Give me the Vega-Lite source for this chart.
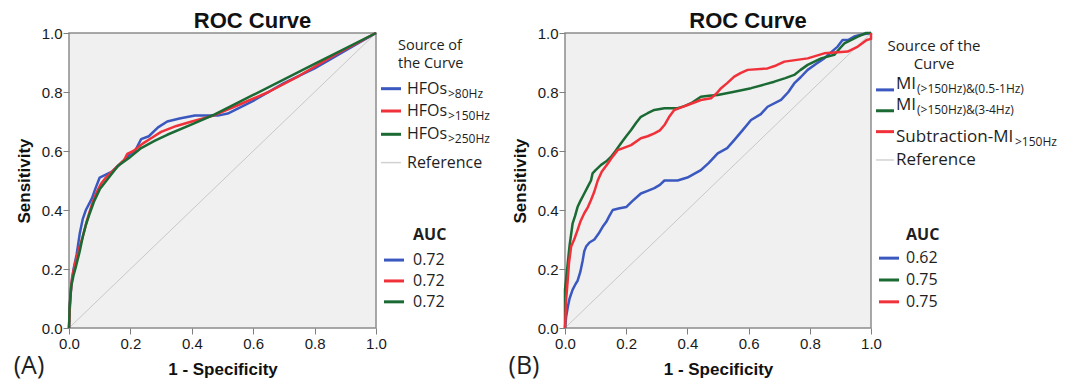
{
  "$schema": "https://vega.github.io/schema/vega-lite/v6.json",
  "padding": {"left": 12, "top": 9, "right": 0, "bottom": 0},
  "background": "white",
  "bounds": "flush",
  "spacing": 3,
  "config": {
    "view": {"stroke": null},
    "axis": {"domain": false, "grid": false, "ticks": true, "tickSize": 6, "tickColor": "#7f7f7f", "tickWidth": 1, "labelFont": "Liberation Sans", "labelFontSize": 15, "labelColor": "#1a1a1a", "labelPadding": 2, "labelFlush": false, "labelOverlap": false, "titleFont": "Liberation Sans", "titleFontSize": 17, "titleFontWeight": "bold", "titleColor": "#111111"},
    "axisX": {"titlePadding": 10},
    "axisY": {"titlePadding": 8, "labelPadding": 1},
    "title": {"font": "Liberation Sans", "fontSize": 22, "fontWeight": "bold", "color": "#111111", "baseline": "alphabetic", "offset": -7}
  },
  "resolve": {"scale": {"color": "independent", "x": "independent", "y": "independent"}},
  "datasets": {
    "rocA": [
      {"series": "HFOs>80Hz", "fpr": 0, "tpr": 0},
      {"series": "HFOs>80Hz", "fpr": 0.003, "tpr": 0.08},
      {"series": "HFOs>80Hz", "fpr": 0.008, "tpr": 0.15},
      {"series": "HFOs>80Hz", "fpr": 0.015, "tpr": 0.2},
      {"series": "HFOs>80Hz", "fpr": 0.025, "tpr": 0.25},
      {"series": "HFOs>80Hz", "fpr": 0.035, "tpr": 0.32},
      {"series": "HFOs>80Hz", "fpr": 0.045, "tpr": 0.37},
      {"series": "HFOs>80Hz", "fpr": 0.055, "tpr": 0.4},
      {"series": "HFOs>80Hz", "fpr": 0.065, "tpr": 0.42},
      {"series": "HFOs>80Hz", "fpr": 0.075, "tpr": 0.44},
      {"series": "HFOs>80Hz", "fpr": 0.085, "tpr": 0.47},
      {"series": "HFOs>80Hz", "fpr": 0.1, "tpr": 0.51},
      {"series": "HFOs>80Hz", "fpr": 0.12, "tpr": 0.52},
      {"series": "HFOs>80Hz", "fpr": 0.14, "tpr": 0.53},
      {"series": "HFOs>80Hz", "fpr": 0.16, "tpr": 0.55},
      {"series": "HFOs>80Hz", "fpr": 0.18, "tpr": 0.57},
      {"series": "HFOs>80Hz", "fpr": 0.2, "tpr": 0.59},
      {"series": "HFOs>80Hz", "fpr": 0.215, "tpr": 0.6},
      {"series": "HFOs>80Hz", "fpr": 0.235, "tpr": 0.64},
      {"series": "HFOs>80Hz", "fpr": 0.26, "tpr": 0.65},
      {"series": "HFOs>80Hz", "fpr": 0.29, "tpr": 0.68},
      {"series": "HFOs>80Hz", "fpr": 0.32, "tpr": 0.7},
      {"series": "HFOs>80Hz", "fpr": 0.36, "tpr": 0.71},
      {"series": "HFOs>80Hz", "fpr": 0.41, "tpr": 0.72},
      {"series": "HFOs>80Hz", "fpr": 0.485, "tpr": 0.72},
      {"series": "HFOs>80Hz", "fpr": 0.517, "tpr": 0.727},
      {"series": "HFOs>80Hz", "fpr": 0.6, "tpr": 0.77},
      {"series": "HFOs>80Hz", "fpr": 0.7, "tpr": 0.83},
      {"series": "HFOs>80Hz", "fpr": 0.8, "tpr": 0.88},
      {"series": "HFOs>80Hz", "fpr": 0.9, "tpr": 0.94},
      {"series": "HFOs>80Hz", "fpr": 1, "tpr": 1},
      {"series": "HFOs>150Hz", "fpr": 0, "tpr": 0},
      {"series": "HFOs>150Hz", "fpr": 0.004, "tpr": 0.1},
      {"series": "HFOs>150Hz", "fpr": 0.01, "tpr": 0.17},
      {"series": "HFOs>150Hz", "fpr": 0.02, "tpr": 0.22},
      {"series": "HFOs>150Hz", "fpr": 0.03, "tpr": 0.26},
      {"series": "HFOs>150Hz", "fpr": 0.045, "tpr": 0.31},
      {"series": "HFOs>150Hz", "fpr": 0.06, "tpr": 0.37},
      {"series": "HFOs>150Hz", "fpr": 0.075, "tpr": 0.42},
      {"series": "HFOs>150Hz", "fpr": 0.09, "tpr": 0.46},
      {"series": "HFOs>150Hz", "fpr": 0.105, "tpr": 0.49},
      {"series": "HFOs>150Hz", "fpr": 0.12, "tpr": 0.51},
      {"series": "HFOs>150Hz", "fpr": 0.14, "tpr": 0.53},
      {"series": "HFOs>150Hz", "fpr": 0.16, "tpr": 0.55},
      {"series": "HFOs>150Hz", "fpr": 0.18, "tpr": 0.57},
      {"series": "HFOs>150Hz", "fpr": 0.19, "tpr": 0.59},
      {"series": "HFOs>150Hz", "fpr": 0.21, "tpr": 0.6},
      {"series": "HFOs>150Hz", "fpr": 0.24, "tpr": 0.625},
      {"series": "HFOs>150Hz", "fpr": 0.27, "tpr": 0.645},
      {"series": "HFOs>150Hz", "fpr": 0.3, "tpr": 0.665},
      {"series": "HFOs>150Hz", "fpr": 0.35, "tpr": 0.685},
      {"series": "HFOs>150Hz", "fpr": 0.4, "tpr": 0.7},
      {"series": "HFOs>150Hz", "fpr": 0.47, "tpr": 0.72},
      {"series": "HFOs>150Hz", "fpr": 0.55, "tpr": 0.755},
      {"series": "HFOs>150Hz", "fpr": 0.65, "tpr": 0.8},
      {"series": "HFOs>150Hz", "fpr": 0.75, "tpr": 0.855},
      {"series": "HFOs>150Hz", "fpr": 0.866, "tpr": 0.926},
      {"series": "HFOs>150Hz", "fpr": 1, "tpr": 1},
      {"series": "HFOs>250Hz", "fpr": 0, "tpr": 0},
      {"series": "HFOs>250Hz", "fpr": 0.002, "tpr": 0.07},
      {"series": "HFOs>250Hz", "fpr": 0.007, "tpr": 0.14},
      {"series": "HFOs>250Hz", "fpr": 0.015, "tpr": 0.18},
      {"series": "HFOs>250Hz", "fpr": 0.023, "tpr": 0.21},
      {"series": "HFOs>250Hz", "fpr": 0.035, "tpr": 0.26},
      {"series": "HFOs>250Hz", "fpr": 0.045, "tpr": 0.31},
      {"series": "HFOs>250Hz", "fpr": 0.055, "tpr": 0.35},
      {"series": "HFOs>250Hz", "fpr": 0.068, "tpr": 0.39},
      {"series": "HFOs>250Hz", "fpr": 0.082, "tpr": 0.43},
      {"series": "HFOs>250Hz", "fpr": 0.1, "tpr": 0.47},
      {"series": "HFOs>250Hz", "fpr": 0.126, "tpr": 0.505},
      {"series": "HFOs>250Hz", "fpr": 0.16, "tpr": 0.55},
      {"series": "HFOs>250Hz", "fpr": 0.2, "tpr": 0.58},
      {"series": "HFOs>250Hz", "fpr": 0.235, "tpr": 0.61},
      {"series": "HFOs>250Hz", "fpr": 0.28, "tpr": 0.635},
      {"series": "HFOs>250Hz", "fpr": 0.32, "tpr": 0.655},
      {"series": "HFOs>250Hz", "fpr": 0.4, "tpr": 0.69},
      {"series": "HFOs>250Hz", "fpr": 0.47, "tpr": 0.722},
      {"series": "HFOs>250Hz", "fpr": 0.6, "tpr": 0.79},
      {"series": "HFOs>250Hz", "fpr": 0.8, "tpr": 0.895},
      {"series": "HFOs>250Hz", "fpr": 1, "tpr": 1}
    ],
    "rocB": [
      {"series": "MI(>150Hz)&(0.5-1Hz)", "fpr": 0, "tpr": 0},
      {"series": "MI(>150Hz)&(0.5-1Hz)", "fpr": 0.004, "tpr": 0.04},
      {"series": "MI(>150Hz)&(0.5-1Hz)", "fpr": 0.009, "tpr": 0.07},
      {"series": "MI(>150Hz)&(0.5-1Hz)", "fpr": 0.015, "tpr": 0.1},
      {"series": "MI(>150Hz)&(0.5-1Hz)", "fpr": 0.025, "tpr": 0.13},
      {"series": "MI(>150Hz)&(0.5-1Hz)", "fpr": 0.035, "tpr": 0.15},
      {"series": "MI(>150Hz)&(0.5-1Hz)", "fpr": 0.041, "tpr": 0.16},
      {"series": "MI(>150Hz)&(0.5-1Hz)", "fpr": 0.05, "tpr": 0.19},
      {"series": "MI(>150Hz)&(0.5-1Hz)", "fpr": 0.058, "tpr": 0.23},
      {"series": "MI(>150Hz)&(0.5-1Hz)", "fpr": 0.063, "tpr": 0.26},
      {"series": "MI(>150Hz)&(0.5-1Hz)", "fpr": 0.069, "tpr": 0.276},
      {"series": "MI(>150Hz)&(0.5-1Hz)", "fpr": 0.08, "tpr": 0.29},
      {"series": "MI(>150Hz)&(0.5-1Hz)", "fpr": 0.096, "tpr": 0.3},
      {"series": "MI(>150Hz)&(0.5-1Hz)", "fpr": 0.11, "tpr": 0.32},
      {"series": "MI(>150Hz)&(0.5-1Hz)", "fpr": 0.123, "tpr": 0.343},
      {"series": "MI(>150Hz)&(0.5-1Hz)", "fpr": 0.135, "tpr": 0.36},
      {"series": "MI(>150Hz)&(0.5-1Hz)", "fpr": 0.145, "tpr": 0.38},
      {"series": "MI(>150Hz)&(0.5-1Hz)", "fpr": 0.156, "tpr": 0.4},
      {"series": "MI(>150Hz)&(0.5-1Hz)", "fpr": 0.175, "tpr": 0.405},
      {"series": "MI(>150Hz)&(0.5-1Hz)", "fpr": 0.2, "tpr": 0.41},
      {"series": "MI(>150Hz)&(0.5-1Hz)", "fpr": 0.22, "tpr": 0.43},
      {"series": "MI(>150Hz)&(0.5-1Hz)", "fpr": 0.248, "tpr": 0.456},
      {"series": "MI(>150Hz)&(0.5-1Hz)", "fpr": 0.27, "tpr": 0.465},
      {"series": "MI(>150Hz)&(0.5-1Hz)", "fpr": 0.292, "tpr": 0.474},
      {"series": "MI(>150Hz)&(0.5-1Hz)", "fpr": 0.31, "tpr": 0.485},
      {"series": "MI(>150Hz)&(0.5-1Hz)", "fpr": 0.325, "tpr": 0.5},
      {"series": "MI(>150Hz)&(0.5-1Hz)", "fpr": 0.368, "tpr": 0.5},
      {"series": "MI(>150Hz)&(0.5-1Hz)", "fpr": 0.4, "tpr": 0.51},
      {"series": "MI(>150Hz)&(0.5-1Hz)", "fpr": 0.444, "tpr": 0.535},
      {"series": "MI(>150Hz)&(0.5-1Hz)", "fpr": 0.47, "tpr": 0.56},
      {"series": "MI(>150Hz)&(0.5-1Hz)", "fpr": 0.499, "tpr": 0.592},
      {"series": "MI(>150Hz)&(0.5-1Hz)", "fpr": 0.53, "tpr": 0.61},
      {"series": "MI(>150Hz)&(0.5-1Hz)", "fpr": 0.553, "tpr": 0.637},
      {"series": "MI(>150Hz)&(0.5-1Hz)", "fpr": 0.58, "tpr": 0.67},
      {"series": "MI(>150Hz)&(0.5-1Hz)", "fpr": 0.608, "tpr": 0.705},
      {"series": "MI(>150Hz)&(0.5-1Hz)", "fpr": 0.64, "tpr": 0.725},
      {"series": "MI(>150Hz)&(0.5-1Hz)", "fpr": 0.662, "tpr": 0.75},
      {"series": "MI(>150Hz)&(0.5-1Hz)", "fpr": 0.706, "tpr": 0.773},
      {"series": "MI(>150Hz)&(0.5-1Hz)", "fpr": 0.73, "tpr": 0.8},
      {"series": "MI(>150Hz)&(0.5-1Hz)", "fpr": 0.749, "tpr": 0.829},
      {"series": "MI(>150Hz)&(0.5-1Hz)", "fpr": 0.77, "tpr": 0.85},
      {"series": "MI(>150Hz)&(0.5-1Hz)", "fpr": 0.793, "tpr": 0.875},
      {"series": "MI(>150Hz)&(0.5-1Hz)", "fpr": 0.82, "tpr": 0.895},
      {"series": "MI(>150Hz)&(0.5-1Hz)", "fpr": 0.847, "tpr": 0.914},
      {"series": "MI(>150Hz)&(0.5-1Hz)", "fpr": 0.87, "tpr": 0.935},
      {"series": "MI(>150Hz)&(0.5-1Hz)", "fpr": 0.891, "tpr": 0.954},
      {"series": "MI(>150Hz)&(0.5-1Hz)", "fpr": 0.907, "tpr": 0.976},
      {"series": "MI(>150Hz)&(0.5-1Hz)", "fpr": 0.925, "tpr": 0.976},
      {"series": "MI(>150Hz)&(0.5-1Hz)", "fpr": 0.945, "tpr": 0.988},
      {"series": "MI(>150Hz)&(0.5-1Hz)", "fpr": 0.97, "tpr": 0.995},
      {"series": "MI(>150Hz)&(0.5-1Hz)", "fpr": 1, "tpr": 1},
      {"series": "MI(>150Hz)&(3-4Hz)", "fpr": 0, "tpr": 0},
      {"series": "MI(>150Hz)&(3-4Hz)", "fpr": 0, "tpr": 0.13},
      {"series": "MI(>150Hz)&(3-4Hz)", "fpr": 0.005, "tpr": 0.18},
      {"series": "MI(>150Hz)&(3-4Hz)", "fpr": 0.009, "tpr": 0.22},
      {"series": "MI(>150Hz)&(3-4Hz)", "fpr": 0.015, "tpr": 0.28},
      {"series": "MI(>150Hz)&(3-4Hz)", "fpr": 0.025, "tpr": 0.355},
      {"series": "MI(>150Hz)&(3-4Hz)", "fpr": 0.033, "tpr": 0.38},
      {"series": "MI(>150Hz)&(3-4Hz)", "fpr": 0.041, "tpr": 0.41},
      {"series": "MI(>150Hz)&(3-4Hz)", "fpr": 0.05, "tpr": 0.43},
      {"series": "MI(>150Hz)&(3-4Hz)", "fpr": 0.063, "tpr": 0.456},
      {"series": "MI(>150Hz)&(3-4Hz)", "fpr": 0.075, "tpr": 0.48},
      {"series": "MI(>150Hz)&(3-4Hz)", "fpr": 0.085, "tpr": 0.5},
      {"series": "MI(>150Hz)&(3-4Hz)", "fpr": 0.09, "tpr": 0.524},
      {"series": "MI(>150Hz)&(3-4Hz)", "fpr": 0.1, "tpr": 0.535},
      {"series": "MI(>150Hz)&(3-4Hz)", "fpr": 0.118, "tpr": 0.553},
      {"series": "MI(>150Hz)&(3-4Hz)", "fpr": 0.135, "tpr": 0.565},
      {"series": "MI(>150Hz)&(3-4Hz)", "fpr": 0.15, "tpr": 0.58},
      {"series": "MI(>150Hz)&(3-4Hz)", "fpr": 0.165, "tpr": 0.6},
      {"series": "MI(>150Hz)&(3-4Hz)", "fpr": 0.183, "tpr": 0.626},
      {"series": "MI(>150Hz)&(3-4Hz)", "fpr": 0.2, "tpr": 0.65},
      {"series": "MI(>150Hz)&(3-4Hz)", "fpr": 0.216, "tpr": 0.671},
      {"series": "MI(>150Hz)&(3-4Hz)", "fpr": 0.232, "tpr": 0.695},
      {"series": "MI(>150Hz)&(3-4Hz)", "fpr": 0.248, "tpr": 0.716},
      {"series": "MI(>150Hz)&(3-4Hz)", "fpr": 0.27, "tpr": 0.728},
      {"series": "MI(>150Hz)&(3-4Hz)", "fpr": 0.292, "tpr": 0.739},
      {"series": "MI(>150Hz)&(3-4Hz)", "fpr": 0.325, "tpr": 0.745},
      {"series": "MI(>150Hz)&(3-4Hz)", "fpr": 0.368, "tpr": 0.745},
      {"series": "MI(>150Hz)&(3-4Hz)", "fpr": 0.39, "tpr": 0.752},
      {"series": "MI(>150Hz)&(3-4Hz)", "fpr": 0.412, "tpr": 0.762},
      {"series": "MI(>150Hz)&(3-4Hz)", "fpr": 0.444, "tpr": 0.784},
      {"series": "MI(>150Hz)&(3-4Hz)", "fpr": 0.47, "tpr": 0.787},
      {"series": "MI(>150Hz)&(3-4Hz)", "fpr": 0.499, "tpr": 0.79},
      {"series": "MI(>150Hz)&(3-4Hz)", "fpr": 0.553, "tpr": 0.801},
      {"series": "MI(>150Hz)&(3-4Hz)", "fpr": 0.608, "tpr": 0.813},
      {"series": "MI(>150Hz)&(3-4Hz)", "fpr": 0.65, "tpr": 0.825},
      {"series": "MI(>150Hz)&(3-4Hz)", "fpr": 0.684, "tpr": 0.835},
      {"series": "MI(>150Hz)&(3-4Hz)", "fpr": 0.72, "tpr": 0.847},
      {"series": "MI(>150Hz)&(3-4Hz)", "fpr": 0.749, "tpr": 0.858},
      {"series": "MI(>150Hz)&(3-4Hz)", "fpr": 0.77, "tpr": 0.875},
      {"series": "MI(>150Hz)&(3-4Hz)", "fpr": 0.793, "tpr": 0.892},
      {"series": "MI(>150Hz)&(3-4Hz)", "fpr": 0.837, "tpr": 0.914},
      {"series": "MI(>150Hz)&(3-4Hz)", "fpr": 0.88, "tpr": 0.926},
      {"series": "MI(>150Hz)&(3-4Hz)", "fpr": 0.9, "tpr": 0.95},
      {"series": "MI(>150Hz)&(3-4Hz)", "fpr": 0.913, "tpr": 0.965},
      {"series": "MI(>150Hz)&(3-4Hz)", "fpr": 0.957, "tpr": 0.988},
      {"series": "MI(>150Hz)&(3-4Hz)", "fpr": 0.984, "tpr": 1},
      {"series": "MI(>150Hz)&(3-4Hz)", "fpr": 1, "tpr": 1},
      {"series": "Subtraction-MI>150Hz", "fpr": 0, "tpr": 0},
      {"series": "Subtraction-MI>150Hz", "fpr": 0.004, "tpr": 0.1},
      {"series": "Subtraction-MI>150Hz", "fpr": 0.009, "tpr": 0.163},
      {"series": "Subtraction-MI>150Hz", "fpr": 0.013, "tpr": 0.22},
      {"series": "Subtraction-MI>150Hz", "fpr": 0.02, "tpr": 0.276},
      {"series": "Subtraction-MI>150Hz", "fpr": 0.03, "tpr": 0.3},
      {"series": "Subtraction-MI>150Hz", "fpr": 0.041, "tpr": 0.332},
      {"series": "Subtraction-MI>150Hz", "fpr": 0.05, "tpr": 0.36},
      {"series": "Subtraction-MI>150Hz", "fpr": 0.063, "tpr": 0.389},
      {"series": "Subtraction-MI>150Hz", "fpr": 0.075, "tpr": 0.41},
      {"series": "Subtraction-MI>150Hz", "fpr": 0.085, "tpr": 0.434},
      {"series": "Subtraction-MI>150Hz", "fpr": 0.095, "tpr": 0.46},
      {"series": "Subtraction-MI>150Hz", "fpr": 0.107, "tpr": 0.5},
      {"series": "Subtraction-MI>150Hz", "fpr": 0.12, "tpr": 0.53},
      {"series": "Subtraction-MI>150Hz", "fpr": 0.14, "tpr": 0.558},
      {"series": "Subtraction-MI>150Hz", "fpr": 0.155, "tpr": 0.58},
      {"series": "Subtraction-MI>150Hz", "fpr": 0.172, "tpr": 0.603},
      {"series": "Subtraction-MI>150Hz", "fpr": 0.19, "tpr": 0.61},
      {"series": "Subtraction-MI>150Hz", "fpr": 0.216, "tpr": 0.62},
      {"series": "Subtraction-MI>150Hz", "fpr": 0.248, "tpr": 0.643},
      {"series": "Subtraction-MI>150Hz", "fpr": 0.27, "tpr": 0.65},
      {"series": "Subtraction-MI>150Hz", "fpr": 0.292, "tpr": 0.66},
      {"series": "Subtraction-MI>150Hz", "fpr": 0.31, "tpr": 0.67},
      {"series": "Subtraction-MI>150Hz", "fpr": 0.325, "tpr": 0.688},
      {"series": "Subtraction-MI>150Hz", "fpr": 0.34, "tpr": 0.715},
      {"series": "Subtraction-MI>150Hz", "fpr": 0.357, "tpr": 0.739},
      {"series": "Subtraction-MI>150Hz", "fpr": 0.38, "tpr": 0.748},
      {"series": "Subtraction-MI>150Hz", "fpr": 0.401, "tpr": 0.756},
      {"series": "Subtraction-MI>150Hz", "fpr": 0.444, "tpr": 0.773},
      {"series": "Subtraction-MI>150Hz", "fpr": 0.477, "tpr": 0.779},
      {"series": "Subtraction-MI>150Hz", "fpr": 0.495, "tpr": 0.795},
      {"series": "Subtraction-MI>150Hz", "fpr": 0.51, "tpr": 0.813},
      {"series": "Subtraction-MI>150Hz", "fpr": 0.53, "tpr": 0.83},
      {"series": "Subtraction-MI>150Hz", "fpr": 0.553, "tpr": 0.852},
      {"series": "Subtraction-MI>150Hz", "fpr": 0.575, "tpr": 0.865},
      {"series": "Subtraction-MI>150Hz", "fpr": 0.597, "tpr": 0.875},
      {"series": "Subtraction-MI>150Hz", "fpr": 0.662, "tpr": 0.88},
      {"series": "Subtraction-MI>150Hz", "fpr": 0.69, "tpr": 0.89},
      {"series": "Subtraction-MI>150Hz", "fpr": 0.717, "tpr": 0.903},
      {"series": "Subtraction-MI>150Hz", "fpr": 0.793, "tpr": 0.914},
      {"series": "Subtraction-MI>150Hz", "fpr": 0.847, "tpr": 0.931},
      {"series": "Subtraction-MI>150Hz", "fpr": 0.924, "tpr": 0.937},
      {"series": "Subtraction-MI>150Hz", "fpr": 0.957, "tpr": 0.954},
      {"series": "Subtraction-MI>150Hz", "fpr": 0.986, "tpr": 0.976},
      {"series": "Subtraction-MI>150Hz", "fpr": 1, "tpr": 0.98},
      {"series": "Subtraction-MI>150Hz", "fpr": 1, "tpr": 1}
    ],
    "legA": [
      {"kind": "head", "label": "Source of", "row": 0.55},
      {"kind": "head", "label": "the Curve", "row": 1.3},
      {"kind": "entry", "series": "HFOs>80Hz", "main": "HFOs", "sub": ">80Hz", "row": 2.32},
      {"kind": "entry", "series": "HFOs>150Hz", "main": "HFOs", "sub": ">150Hz", "row": 3.25},
      {"kind": "entry", "series": "HFOs>250Hz", "main": "HFOs", "sub": ">250Hz", "row": 4.22},
      {"kind": "entry", "series": "Reference", "main": "Reference", "sub": "", "row": 5.4},
      {"kind": "auctitle", "label": "AUC", "row": 8.42},
      {"kind": "auc", "series": "HFOs>80Hz", "label": "0.72", "row": 9.46},
      {"kind": "auc", "series": "HFOs>150Hz", "label": "0.72", "row": 10.33},
      {"kind": "auc", "series": "HFOs>250Hz", "label": "0.72", "row": 11.2}
    ],
    "legB": [
      {"kind": "head", "label": "Source of the", "row": 0.55},
      {"kind": "head", "label": "Curve", "row": 1.3},
      {"kind": "entry", "series": "MI(>150Hz)&(0.5-1Hz)", "main": "MI", "sub": "(>150Hz)&(0.5-1Hz)", "row": 2.37},
      {"kind": "entry", "series": "MI(>150Hz)&(3-4Hz)", "main": "MI", "sub": "(>150Hz)&(3-4Hz)", "row": 3.24},
      {"kind": "entry", "series": "Subtraction-MI>150Hz", "main": "Subtraction-MI", "sub": ">150Hz", "row": 4.11},
      {"kind": "entry", "series": "Reference", "main": "Reference", "sub": "", "row": 5.29},
      {"kind": "auctitle", "label": "AUC", "row": 8.42},
      {"kind": "auc", "series": "MI(>150Hz)&(0.5-1Hz)", "label": "0.62", "row": 9.38},
      {"kind": "auc", "series": "MI(>150Hz)&(3-4Hz)", "label": "0.75", "row": 10.29},
      {"kind": "auc", "series": "Subtraction-MI>150Hz", "label": "0.75", "row": 11.2}
    ]
  },
  "hconcat": [
    {
      "width": 307, "height": 295,
      "view": {"fill": "#f0f0f0", "stroke": "#8c8c8c", "strokeWidth": 1.5},
      "title": {"text": "ROC Curve", "dx": 30},
      "layer": [
        {
          "data": {"values": [{"fpr": 0, "tpr": 0}, {"fpr": 1, "tpr": 1}]},
          "mark": {"type": "line", "color": "#c8c8c8", "strokeWidth": 1},
          "encoding": {
            "x": {"field": "fpr", "type": "quantitative", "scale": {"domain": [0, 1], "nice": false}, "axis": {"title": "1 - Specificity", "values": [0, 0.2, 0.4, 0.6, 0.8, 1], "format": ".1f"}},
            "y": {"field": "tpr", "type": "quantitative", "scale": {"domain": [0, 1], "nice": false}, "axis": {"title": "Sensitivity", "values": [0, 0.2, 0.4, 0.6, 0.8, 1], "format": ".1f"}}
          }
        },
        {
          "data": {"name": "rocA"},
          "mark": {"type": "line", "strokeWidth": 2.5, "strokeJoin": "round"},
          "encoding": {
            "x": {"field": "fpr", "type": "quantitative"},
            "y": {"field": "tpr", "type": "quantitative"},
            "color": {"field": "series", "type": "nominal", "scale": {"domain": ["HFOs>80Hz", "HFOs>150Hz", "HFOs>250Hz", "Reference"], "range": ["#3a58bf", "#f0313a", "#1b6a34", "#c8c8c8"]}, "legend": null},
            "order": [{"field": "fpr"}, {"field": "tpr"}]
          }
        },
        {
          "data": {"values": [{"label": "(A)"}]},
          "mark": {"type": "text", "font": "Open Sans", "fontSize": 25, "dx": -40, "dy": 38, "align": "center", "baseline": "middle", "color": "#1e1e1e"},
          "encoding": {"x": {"datum": 0, "type": "quantitative"}, "y": {"datum": 0, "type": "quantitative"}, "text": {"field": "label"}}
        }
      ]
    },
    {
      "width": 183, "height": 295,
      "data": {"name": "legA"},
      "layer": [
        {
          "transform": [{"filter": "datum.kind === 'entry'"}],
          "mark": {"type": "rule"},
          "encoding": {
            "x": {"datum": 2, "type": "quantitative", "scale": {"domain": [0, 183], "nice": false}, "axis": null},
            "x2": {"datum": 22},
            "y": {"field": "row", "type": "quantitative", "scale": {"domain": [0, 12.29], "reverse": true, "nice": false, "zero": false}, "axis": null},
            "color": {"field": "series", "type": "nominal", "scale": {"domain": ["HFOs>80Hz", "HFOs>150Hz", "HFOs>250Hz", "Reference"], "range": ["#3a58bf", "#f0313a", "#1b6a34", "#d2d2d2"]}, "legend": null},
            "strokeWidth": {"condition": {"test": "datum.series === 'Reference'", "value": 1.5}, "value": 3}
          }
        },
        {
          "transform": [{"filter": "datum.kind === 'auc'"}],
          "mark": {"type": "rule", "strokeWidth": 3},
          "encoding": {
            "x": {"datum": 5, "type": "quantitative"},
            "x2": {"datum": 25},
            "y": {"field": "row", "type": "quantitative"},
            "color": {"field": "series", "type": "nominal", "legend": null}
          }
        },
        {
          "transform": [{"filter": "datum.kind === 'head'"}],
          "mark": {"type": "text", "font": "Open Sans", "fontSize": 14.5, "align": "left", "baseline": "middle", "color": "#1e1e1e"},
          "encoding": {"x": {"datum": 19, "type": "quantitative"}, "y": {"field": "row", "type": "quantitative"}, "text": {"field": "label"}}
        },
        {
          "transform": [{"filter": "datum.kind === 'entry'"}],
          "mark": {"type": "text", "font": "Open Sans", "fontSize": 16, "align": "left", "baseline": "middle", "color": "#1e1e1e"},
          "encoding": {"x": {"datum": 28, "type": "quantitative"}, "y": {"field": "row", "type": "quantitative"}, "text": {"field": "main"}}
        },
        {
          "transform": [{"filter": "datum.kind === 'entry' && datum.sub !== ''"}],
          "mark": {"type": "text", "font": "Open Sans", "fontSize": 12, "align": "left", "baseline": "middle", "dy": 5, "color": "#1e1e1e"},
          "encoding": {"x": {"datum": 69, "type": "quantitative"}, "y": {"field": "row", "type": "quantitative"}, "text": {"field": "sub"}}
        },
        {
          "transform": [{"filter": "datum.kind === 'auctitle'"}],
          "mark": {"type": "text", "font": "Open Sans", "fontSize": 16, "fontWeight": "bold", "align": "left", "baseline": "middle", "color": "#1e1e1e"},
          "encoding": {"x": {"datum": 34, "type": "quantitative"}, "y": {"field": "row", "type": "quantitative"}, "text": {"field": "label"}}
        },
        {
          "transform": [{"filter": "datum.kind === 'auc'"}],
          "mark": {"type": "text", "font": "Open Sans", "fontSize": 16, "align": "left", "baseline": "middle", "color": "#1e1e1e"},
          "encoding": {"x": {"datum": 34, "type": "quantitative"}, "y": {"field": "row", "type": "quantitative"}, "text": {"field": "label"}}
        }
      ]
    },
    {
      "width": 306, "height": 295,
      "view": {"fill": "#f0f0f0", "stroke": "#8c8c8c", "strokeWidth": 1.5},
      "title": {"text": "ROC Curve", "dx": 30},
      "layer": [
        {
          "data": {"values": [{"fpr": 0, "tpr": 0}, {"fpr": 1, "tpr": 1}]},
          "mark": {"type": "line", "color": "#c8c8c8", "strokeWidth": 1},
          "encoding": {
            "x": {"field": "fpr", "type": "quantitative", "scale": {"domain": [0, 1], "nice": false}, "axis": {"title": "1 - Specificity", "values": [0, 0.2, 0.4, 0.6, 0.8, 1], "format": ".1f"}},
            "y": {"field": "tpr", "type": "quantitative", "scale": {"domain": [0, 1], "nice": false}, "axis": {"title": "Sensitivity", "values": [0, 0.2, 0.4, 0.6, 0.8, 1], "format": ".1f"}}
          }
        },
        {
          "data": {"name": "rocB"},
          "mark": {"type": "line", "strokeWidth": 2.5, "strokeJoin": "round"},
          "encoding": {
            "x": {"field": "fpr", "type": "quantitative"},
            "y": {"field": "tpr", "type": "quantitative"},
            "color": {"field": "series", "type": "nominal", "scale": {"domain": ["MI(>150Hz)&(0.5-1Hz)", "MI(>150Hz)&(3-4Hz)", "Subtraction-MI>150Hz", "Reference"], "range": ["#3a58bf", "#1b6a34", "#f0313a", "#c8c8c8"]}, "legend": null},
            "order": [{"field": "fpr"}, {"field": "tpr"}]
          }
        },
        {
          "data": {"values": [{"label": "(B)"}]},
          "mark": {"type": "text", "font": "Open Sans", "fontSize": 25, "dx": -41, "dy": 38, "align": "center", "baseline": "middle", "color": "#1e1e1e"},
          "encoding": {"x": {"datum": 0, "type": "quantitative"}, "y": {"datum": 0, "type": "quantitative"}, "text": {"field": "label"}}
        }
      ]
    },
    {
      "width": 195, "height": 295,
      "data": {"name": "legB"},
      "layer": [
        {
          "transform": [{"filter": "datum.kind === 'entry'"}],
          "mark": {"type": "rule"},
          "encoding": {
            "x": {"datum": 2, "type": "quantitative", "scale": {"domain": [0, 195], "nice": false}, "axis": null},
            "x2": {"datum": 20},
            "y": {"field": "row", "type": "quantitative", "scale": {"domain": [0, 12.29], "reverse": true, "nice": false, "zero": false}, "axis": null},
            "color": {"field": "series", "type": "nominal", "scale": {"domain": ["MI(>150Hz)&(0.5-1Hz)", "MI(>150Hz)&(3-4Hz)", "Subtraction-MI>150Hz", "Reference"], "range": ["#3a58bf", "#1b6a34", "#f0313a", "#d2d2d2"]}, "legend": null},
            "strokeWidth": {"condition": {"test": "datum.series === 'Reference'", "value": 1.5}, "value": 3}
          }
        },
        {
          "transform": [{"filter": "datum.kind === 'auc'"}],
          "mark": {"type": "rule", "strokeWidth": 3},
          "encoding": {
            "x": {"datum": 5, "type": "quantitative"},
            "x2": {"datum": 25},
            "y": {"field": "row", "type": "quantitative"},
            "color": {"field": "series", "type": "nominal", "legend": null}
          }
        },
        {
          "transform": [{"filter": "datum.kind === 'head'"}],
          "mark": {"type": "text", "font": "Open Sans", "fontSize": 15, "align": "center", "baseline": "middle", "color": "#1e1e1e"},
          "encoding": {"x": {"datum": 60, "type": "quantitative"}, "y": {"field": "row", "type": "quantitative"}, "text": {"field": "label"}}
        },
        {
          "transform": [{"filter": "datum.kind === 'entry' && datum.main === 'MI'"}],
          "mark": {"type": "text", "font": "Open Sans", "fontSize": 17, "align": "left", "baseline": "middle", "dy": -6, "color": "#1e1e1e"},
          "encoding": {"x": {"datum": 22, "type": "quantitative"}, "y": {"field": "row", "type": "quantitative"}, "text": {"field": "main"}}
        },
        {
          "transform": [{"filter": "datum.kind === 'entry' && datum.main === 'MI'"}],
          "mark": {"type": "text", "font": "Open Sans", "fontSize": 12, "align": "left", "baseline": "middle", "dy": -1, "color": "#1e1e1e"},
          "encoding": {"x": {"datum": 43, "type": "quantitative"}, "y": {"field": "row", "type": "quantitative"}, "text": {"field": "sub"}}
        },
        {
          "transform": [{"filter": "datum.kind === 'entry' && datum.main === 'Subtraction-MI'"}],
          "mark": {"type": "text", "font": "Open Sans", "fontSize": 17, "align": "left", "baseline": "middle", "dy": 5, "color": "#1e1e1e"},
          "encoding": {"x": {"datum": 22, "type": "quantitative"}, "y": {"field": "row", "type": "quantitative"}, "text": {"field": "main"}}
        },
        {
          "transform": [{"filter": "datum.kind === 'entry' && datum.main === 'Subtraction-MI'"}],
          "mark": {"type": "text", "font": "Open Sans", "fontSize": 12, "align": "left", "baseline": "middle", "dy": 10, "color": "#1e1e1e"},
          "encoding": {"x": {"datum": 141, "type": "quantitative"}, "y": {"field": "row", "type": "quantitative"}, "text": {"field": "sub"}}
        },
        {
          "transform": [{"filter": "datum.kind === 'entry' && datum.main === 'Reference'"}],
          "mark": {"type": "text", "font": "Open Sans", "fontSize": 17, "align": "left", "baseline": "middle", "color": "#1e1e1e"},
          "encoding": {"x": {"datum": 22, "type": "quantitative"}, "y": {"field": "row", "type": "quantitative"}, "text": {"field": "main"}}
        },
        {
          "transform": [{"filter": "datum.kind === 'auctitle'"}],
          "mark": {"type": "text", "font": "Open Sans", "fontSize": 16, "fontWeight": "bold", "align": "left", "baseline": "middle", "color": "#1e1e1e"},
          "encoding": {"x": {"datum": 32, "type": "quantitative"}, "y": {"field": "row", "type": "quantitative"}, "text": {"field": "label"}}
        },
        {
          "transform": [{"filter": "datum.kind === 'auc'"}],
          "mark": {"type": "text", "font": "Open Sans", "fontSize": 16, "align": "left", "baseline": "middle", "color": "#1e1e1e"},
          "encoding": {"x": {"datum": 32, "type": "quantitative"}, "y": {"field": "row", "type": "quantitative"}, "text": {"field": "label"}}
        }
      ]
    }
  ]
}
